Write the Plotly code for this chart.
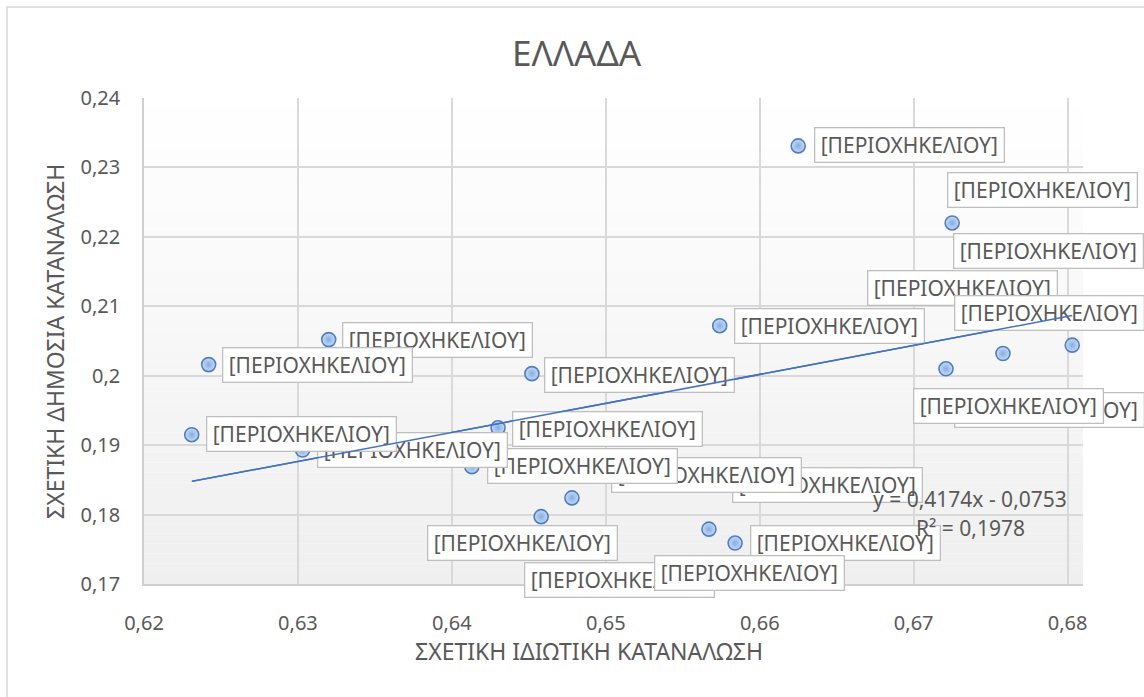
import plotly.graph_objects as go

# ---------------- data ----------------
x_vals = [0.6625, 0.6725, 0.6574, 0.6320, 0.6242, 0.6452, 0.6758, 0.6721, 0.6803,
          0.6231, 0.6303, 0.6430, 0.6413, 0.6478, 0.6458, 0.6567, 0.6584,
          0.6775, 0.6756, 0.6569, 0.6496]
y_vals = [0.2331, 0.2220, 0.2072, 0.2052, 0.2016, 0.2003, 0.2032, 0.2010, 0.2044,
          0.1915, 0.1893, 0.1925, 0.1869, 0.1824, 0.1797, 0.1779, 0.1759,
          0.2180, 0.1951, 0.1850, 0.1756]
point_labels = ["[ΠΕΡΙΟΧΗΚΕΛΙΟΥ]"] * len(x_vals)

trend_slope = 0.4174
trend_intercept = -0.0753
r_squared = 0.1978

x_tickvals = [0.62, 0.63, 0.64, 0.65, 0.66, 0.67, 0.68]
x_ticktext = ["0,62", "0,63", "0,64", "0,65", "0,66", "0,67", "0,68"]
y_tickvals = [0.17, 0.18, 0.19, 0.20, 0.21, 0.22, 0.23, 0.24]
y_ticktext = ["0,17", "0,18", "0,19", "0,2", "0,21", "0,22", "0,23", "0,24"]

title_text = "ΕΛΛΑΔΑ"
x_title = "ΣΧΕΤΙΚΗ ΙΔΙΩΤΙΚΗ ΚΑΤΑΝΑΛΩΣΗ"
y_title = "ΣΧΕΤΙΚΗ ΔΗΜΟΣΙΑ ΚΑΤΑΝΑΛΩΣΗ"

# ---------------- styling / placement ----------------
# label box offset from its point, in pixels (dx right, dy down)
label_offsets = [(111, -1), (90, -33), (110, 0), (109, 0), (109, 0), (108, 1),
                 (-40, -65.5), (62, 37.5), (-22.5, -32), (109.5, -1), (110, 0),
                 (109, 1), (110.5, -0.5), (134.5, -23), (-19, 26.5), (40.5, 43.5),
                 (110, -0.5), (19.5, 0), (49.5, 0), (115, 5.5), (20, 35)]
label_order = [0, 1, 2, 3, 4, 5, 17, 6, 8, 18, 7, 19, 13, 12, 10, 9, 11, 14, 20, 16, 15]

W, H = 1144, 697
ML, MR, MT, MB = 144, 61, 98, 113
PW, PH = W - ML - MR, H - MT - MB
TXT = "#595959"
FONT = "Noto Sans"


def px_to_paper(px, py):
    return (px - ML) / PW, (H - MB - py) / PH


fig = go.Figure()

fig.add_trace(go.Scatter(
    x=x_vals, y=y_vals, mode="markers", text=point_labels,
    marker=dict(size=14, color="#c8dbf5",
                gradient=dict(type="radial", color="#86ace3"),
                line=dict(color="#4f7fc0", width=1.6)),
    hoverinfo="x+y+text", showlegend=False,
))

x_lo, x_hi = min(x_vals), max(x_vals)
fig.add_trace(go.Scatter(
    x=[x_lo, x_hi],
    y=[trend_slope * x_lo + trend_intercept, trend_slope * x_hi + trend_intercept],
    mode="lines", line=dict(color="#4472c4", width=1.5),
    hoverinfo="skip", showlegend=False,
))

shapes = []
# plot-area vertical gradient (white -> light grey)
N = 48
for k in range(N):
    t = (k + 0.5) / N
    c = int(round(255 - t * (255 - 239)))
    shapes.append(dict(type="rect", xref="x domain", yref="y domain",
                       x0=0, x1=1, y0=1 - (k + 1) / N, y1=1 - k / N,
                       fillcolor=f"rgb({c},{c},{c})", line_width=0, layer="below"))
# chart outer border
bx0, by1 = px_to_paper(7, 7)
bx1, by0 = px_to_paper(1180, 740)
shapes.append(dict(type="rect", xref="paper", yref="paper", x0=bx0, x1=bx1, y0=by0, y1=by1,
                   line=dict(color="#d9d9d9", width=1.5), fillcolor="rgba(0,0,0,0)",
                   layer="above"))

annotations = []
for i in label_order:
    dx, dy = label_offsets[i]
    annotations.append(dict(
        x=x_vals[i], y=y_vals[i], xref="x", yref="y", text=point_labels[i],
        showarrow=False, xshift=dx, yshift=-dy, xanchor="center", yanchor="middle",
        width=186, height=31, bgcolor="white", bordercolor="#bfbfbf",
        borderwidth=1.3, borderpad=1,
        font=dict(family=FONT, size=21, color=TXT)))

# trendline drawn again above the labels (as in the reference)
annotations.append(dict(
    x=x_hi, y=trend_slope * x_hi + trend_intercept,
    ax=x_lo, ay=trend_slope * x_lo + trend_intercept,
    xref="x", yref="y", axref="x", ayref="y", text=" ",
    showarrow=True, arrowhead=0, arrowwidth=1.5, arrowcolor="#4472c4",
    standoff=0, startstandoff=0, borderpad=0, font=dict(size=1)))

eq_text = "y = " + f"{trend_slope:.4f}".replace(".", ",") + "x - " + f"{abs(trend_intercept):.4f}".replace(".", ",")
r2_text = "R² = " + f"{r_squared:.4f}".replace(".", ",")
ex, ey = px_to_paper(970, 499)
annotations.append(dict(x=ex, y=ey, xref="paper", yref="paper", text=eq_text, showarrow=False,
                        xanchor="center", yanchor="middle",
                        font=dict(family=FONT, size=21, color=TXT)))
ex, ey = px_to_paper(970, 528)
annotations.append(dict(x=ex, y=ey, xref="paper", yref="paper", text=r2_text, showarrow=False,
                        xanchor="center", yanchor="middle",
                        font=dict(family=FONT, size=21, color=TXT)))

tx, ty = px_to_paper(577, 52)
annotations.append(dict(x=tx, y=ty, xref="paper", yref="paper", text=title_text, showarrow=False,
                        xanchor="center", yanchor="middle",
                        font=dict(family=FONT, size=35, color=TXT)))
tx, ty = px_to_paper(589, 651)
annotations.append(dict(x=tx, y=ty, xref="paper", yref="paper", text=x_title, showarrow=False,
                        xanchor="center", yanchor="middle",
                        font=dict(family=FONT, size=23, color=TXT)))
tx, ty = px_to_paper(55, 342)
annotations.append(dict(x=tx, y=ty, xref="paper", yref="paper", text=y_title, showarrow=False,
                        xanchor="center", yanchor="middle", textangle=-90,
                        font=dict(family=FONT, size=23, color=TXT)))

fig.update_layout(
    width=W, height=H,
    margin=dict(l=ML, r=MR, t=MT, b=MB, autoexpand=False),
    paper_bgcolor="white", plot_bgcolor="white",
    separators=",.",
    shapes=shapes, annotations=annotations,
    showlegend=False,
    xaxis=dict(range=[0.62, 0.681], tickvals=x_tickvals, ticktext=x_ticktext,
               showgrid=True, gridcolor="#d9d9d9", gridwidth=1.5,
               showline=True, linecolor="#d0d0d0", linewidth=1.5,
               zeroline=False, ticks="", ticklabelstandoff=20,
               tickfont=dict(family=FONT, size=20, color=TXT)),
    yaxis=dict(range=[0.17, 0.24], tickvals=y_tickvals, ticktext=y_ticktext,
               showgrid=True, gridcolor="#d9d9d9", gridwidth=1.5,
               showline=True, linecolor="#d0d0d0", linewidth=1.5,
               zeroline=False, ticks="", ticklabelstandoff=18,
               tickfont=dict(family=FONT, size=20, color=TXT)),
)

fig.write_html("out.html",
               config={"displayModeBar": False},
               post_script="document.body.style.margin='0px';document.body.style.overflow='hidden';")
